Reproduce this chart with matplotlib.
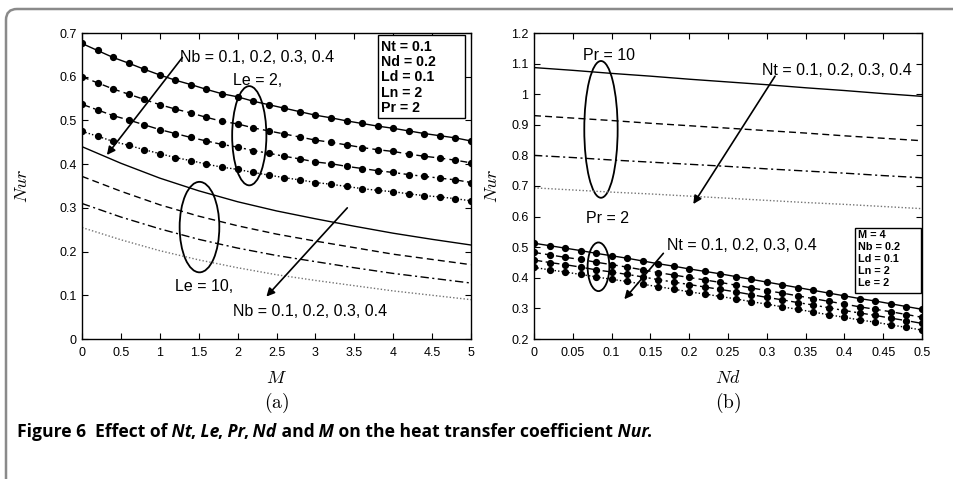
import numpy as np
import matplotlib.pyplot as plt
from matplotlib.patches import Ellipse, FancyBboxPatch, Rectangle
from matplotlib.transforms import IdentityTransform

plt.rcParams['font.family'] = ['Liberation Sans', 'DejaVu Sans']
plt.rcParams['mathtext.fontset'] = 'cm'

# ---- panel (a): Nur vs M ----
M_dots = np.round(np.arange(0, 5.01, 0.2), 2)
M_line = np.round(np.arange(0, 5.01, 0.5), 2)

# Le = 2 (with markers), Nb = 0.1 ... 0.4
le2_nb1 = [0.676, 0.660, 0.644, 0.631, 0.617, 0.604, 0.592, 0.582, 0.571, 0.561, 0.554, 0.544, 0.536,
           0.528, 0.520, 0.512, 0.506, 0.499, 0.493, 0.487, 0.482, 0.476, 0.470, 0.465, 0.460, 0.453]
le2_nb2 = [0.600, 0.586, 0.572, 0.560, 0.548, 0.536, 0.526, 0.517, 0.507, 0.498, 0.492, 0.483, 0.476,
           0.469, 0.462, 0.455, 0.450, 0.444, 0.438, 0.433, 0.429, 0.423, 0.418, 0.414, 0.409, 0.403]
le2_nb3 = [0.537, 0.524, 0.511, 0.501, 0.490, 0.479, 0.470, 0.461, 0.453, 0.445, 0.439, 0.431, 0.425,
           0.418, 0.412, 0.405, 0.401, 0.395, 0.390, 0.385, 0.381, 0.376, 0.372, 0.368, 0.364, 0.358]
le2_nb4 = [0.475, 0.464, 0.452, 0.443, 0.433, 0.424, 0.415, 0.408, 0.400, 0.393, 0.388, 0.381, 0.375,
           0.369, 0.364, 0.358, 0.354, 0.349, 0.344, 0.340, 0.337, 0.332, 0.328, 0.325, 0.321, 0.316]

# Le = 10 (lines only)
le10_nb1 = [0.440, 0.402, 0.368, 0.339, 0.314, 0.293, 0.275, 0.258, 0.242, 0.228, 0.215]
le10_nb2 = [0.372, 0.338, 0.307, 0.281, 0.259, 0.240, 0.224, 0.209, 0.194, 0.182, 0.170]
le10_nb3 = [0.310, 0.279, 0.252, 0.228, 0.208, 0.191, 0.177, 0.163, 0.150, 0.139, 0.128]
le10_nb4 = [0.255, 0.227, 0.202, 0.181, 0.163, 0.147, 0.134, 0.122, 0.110, 0.100, 0.090]

# ---- panel (b): Nur vs Nd ----
Nd_dots = np.round(np.arange(0, 0.501, 0.02), 3)
Nd_line = np.round(np.arange(0, 0.501, 0.05), 3)

# Pr = 2 (with markers), Nt = 0.1 ... 0.4
pr2_nt1 = [0.513, 0.505, 0.497, 0.489, 0.480, 0.472, 0.464, 0.455, 0.446, 0.438, 0.429, 0.421, 0.413,
           0.404, 0.395, 0.386, 0.377, 0.368, 0.359, 0.350, 0.341, 0.332, 0.324, 0.315, 0.306, 0.297]
pr2_nt2 = [0.483, 0.475, 0.467, 0.460, 0.451, 0.443, 0.435, 0.426, 0.417, 0.409, 0.401, 0.393, 0.385,
           0.376, 0.367, 0.358, 0.350, 0.341, 0.332, 0.323, 0.314, 0.305, 0.297, 0.289, 0.280, 0.271]
pr2_nt3 = [0.458, 0.450, 0.443, 0.435, 0.426, 0.419, 0.411, 0.403, 0.394, 0.386, 0.378, 0.370, 0.362,
           0.354, 0.345, 0.336, 0.328, 0.319, 0.311, 0.302, 0.293, 0.285, 0.277, 0.268, 0.260, 0.251]
pr2_nt4 = [0.434, 0.426, 0.419, 0.411, 0.403, 0.395, 0.388, 0.379, 0.371, 0.363, 0.354, 0.347, 0.339,
           0.331, 0.322, 0.314, 0.305, 0.297, 0.288, 0.279, 0.271, 0.262, 0.255, 0.246, 0.238, 0.229]

# Pr = 10 (lines only)
pr10_nt1 = [1.087, 1.078, 1.068, 1.059, 1.049, 1.040, 1.031, 1.021, 1.012, 1.002, 0.993]
pr10_nt2 = [0.930, 0.922, 0.914, 0.905, 0.897, 0.889, 0.881, 0.873, 0.864, 0.856, 0.848]
pr10_nt3 = [0.800, 0.793, 0.785, 0.778, 0.771, 0.764, 0.756, 0.749, 0.742, 0.734, 0.727]
pr10_nt4 = [0.694, 0.687, 0.680, 0.674, 0.667, 0.660, 0.653, 0.646, 0.640, 0.633, 0.626]

styles = [dict(ls='-'), dict(ls=(0, (5, 3))), dict(ls=(0, (6, 2.5, 1.5, 2.5))), dict(ls=(0, (1, 1.5)))]
mk = dict(marker='o', ms=4.2, mfc='k', mec='k')

fig = plt.figure(figsize=(9.54, 4.79), dpi=100)

# rounded frame, only its top and left edges fall inside the picture
frame = FancyBboxPatch((6, -40), 1100, 479 - 9 + 40, boxstyle='round,pad=0,rounding_size=11',
                       transform=IdentityTransform(), fill=False, ec='#8a8a8a', lw=1.8)
fig.patches.append(frame)

axA = fig.add_axes([82 / 954, 1 - 339 / 479, 389 / 954, 306 / 479])
axB = fig.add_axes([534 / 954, 1 - 339 / 479, 388 / 954, 306 / 479])

for ys, st in zip([le2_nb1, le2_nb2, le2_nb3, le2_nb4], styles):
    axA.plot(M_dots, ys, color='k', lw=1.0, **st, **mk)
for ys, st, c in zip([le10_nb1, le10_nb2, le10_nb3, le10_nb4], styles, ['k', 'k', 'k', '0.45']):
    axA.plot(M_line, ys, color=c, lw=1.0, **st)

for ys, st, c in zip([pr10_nt1, pr10_nt2, pr10_nt3, pr10_nt4], styles, ['k', 'k', 'k', '0.45']):
    axB.plot(Nd_line, ys, color=c, lw=1.0, **st)
for ys, st in zip([pr2_nt1, pr2_nt2, pr2_nt3, pr2_nt4], styles):
    axB.plot(Nd_dots, ys, color='k', lw=1.0, **st, **mk)

axA.set_xlim(0, 5)
axA.set_ylim(0, 0.7)
axA.set_xticks(np.arange(0, 5.01, 0.5))
axA.set_yticks(np.arange(0, 0.701, 0.1))
axB.set_xlim(0, 0.5)
axB.set_ylim(0.2, 1.2)
axB.set_xticks(np.arange(0, 0.501, 0.05))
axB.set_yticks(np.arange(0.2, 1.201, 0.1))

for ax in (axA, axB):
    ax.xaxis.set_major_formatter(plt.FuncFormatter(lambda v, p: '%g' % round(v, 3)))
    ax.yaxis.set_major_formatter(plt.FuncFormatter(lambda v, p: '%g' % round(v, 3)))
    ax.tick_params(direction='in', top=True, right=True, length=4, width=0.8, labelsize=9)
    ax.tick_params(axis='x', pad=6)
    ax.tick_params(axis='y', pad=4)
    for s in ax.spines.values():
        s.set_linewidth(1.0)

axA.set_ylabel(r'$Nur$', fontsize=13, labelpad=20)
axB.set_ylabel(r'$Nur$', fontsize=13, labelpad=7)
axA.set_xlabel(r'$M$', fontsize=13, labelpad=8)
axB.set_xlabel(r'$Nd$', fontsize=13, labelpad=8)
fig.text(277 / 954, 1 - 403 / 479, r'$\mathrm{(a)}$', ha='center', va='center', fontsize=14)
fig.text(728 / 954, 1 - 403 / 479, r'$\mathrm{(b)}$', ha='center', va='center', fontsize=14)

arr = dict(arrowstyle='-|>', lw=1.2, color='k', mutation_scale=12, shrinkA=0, shrinkB=0)
ell = dict(fill=False, ec='k', lw=1.3)

# annotations panel (a)
axA.text(1.26, 0.645, 'Nb = 0.1, 0.2, 0.3, 0.4', fontsize=11.5, va='center')
axA.annotate('', xy=(0.32, 0.421), xytext=(1.29, 0.644), arrowprops=arr)
axA.text(2.26, 0.592, 'Le = 2,', fontsize=11.5, ha='center', va='center')
axA.add_patch(Ellipse((2.15, 0.465), 0.44, 0.227, **ell))
axA.add_patch(Ellipse((1.51, 0.256), 0.51, 0.207, **ell))
axA.text(1.57, 0.121, 'Le = 10,', fontsize=11.5, ha='center', va='center')
axA.text(1.94, 0.062, 'Nb = 0.1, 0.2, 0.3, 0.4', fontsize=11.5, va='center')
axA.annotate('', xy=(2.37, 0.097), xytext=(3.41, 0.300), arrowprops=arr)
axA.add_patch(Rectangle((3.80, 0.505), 1.12, 0.19, fc='white', ec='k', lw=1.0, zorder=4))
axA.text(3.84, 0.685, 'Nt = 0.1\nNd = 0.2\nLd = 0.1\nLn = 2\nPr = 2', fontsize=10.2, fontweight='bold',
         va='top', ha='left', linespacing=1.12, zorder=5)

# annotations panel (b)
axB.text(0.097, 1.128, 'Pr = 10', fontsize=11.5, ha='center', va='center')
axB.add_patch(Ellipse((0.0863, 0.885), 0.043, 0.447, **ell))
axB.text(0.39, 1.079, 'Nt = 0.1, 0.2, 0.3, 0.4', fontsize=11.5, ha='center', va='center')
axB.annotate('', xy=(0.2053, 0.641), xytext=(0.3106, 1.059), arrowprops=arr)
axB.text(0.0947, 0.594, 'Pr = 2', fontsize=11.5, ha='center', va='center')
axB.add_patch(Ellipse((0.0831, 0.436), 0.028, 0.159, **ell))
axB.text(0.2674, 0.507, 'Nt = 0.1, 0.2, 0.3, 0.4', fontsize=11.5, ha='center', va='center')
axB.annotate('', xy=(0.1164, 0.330), xytext=(0.1667, 0.480), arrowprops=arr)
axB.add_patch(Rectangle((0.4137, 0.349), 0.0846, 0.2147, fc='white', ec='k', lw=1.0, zorder=4))
axB.text(0.417, 0.557, 'M = 4\nNb = 0.2\nLd = 0.1\nLn = 2\nLe = 2', fontsize=7.8, fontweight='bold',
         va='top', ha='left', linespacing=1.25, zorder=5)

# caption with mixed bold / bold italic pieces
pieces = [('Figure 6  Effect of', 'normal'), (' Nt', 'italic'), (',', 'normal'), (' Le', 'italic'),
          (',', 'normal'), (' Pr', 'italic'), (',', 'normal'), (' Nd', 'italic'), (' and', 'normal'),
          (' M', 'italic'), (' on the heat transfer coefficient', 'normal'), (' Nur', 'italic'),
          ('.', 'normal')]
renderer = fig.canvas.get_renderer()
x = 17 / 954
for i, (txt, sty) in enumerate(pieces):
    t = fig.text(x, 1 - 432 / 479, txt, fontsize=12.6, fontweight='bold', fontstyle=sty,
                 family=['Open Sans', 'DejaVu Sans'], va='center', ha='left')
    bb = t.get_window_extent(renderer)
    w = bb.width
    if sty == 'italic' and i + 1 < len(pieces) and not pieces[i + 1][0].startswith(' '):
        w -= 1.5
    x += w / fig.bbox.width

fig.savefig('out.png', dpi=100)
